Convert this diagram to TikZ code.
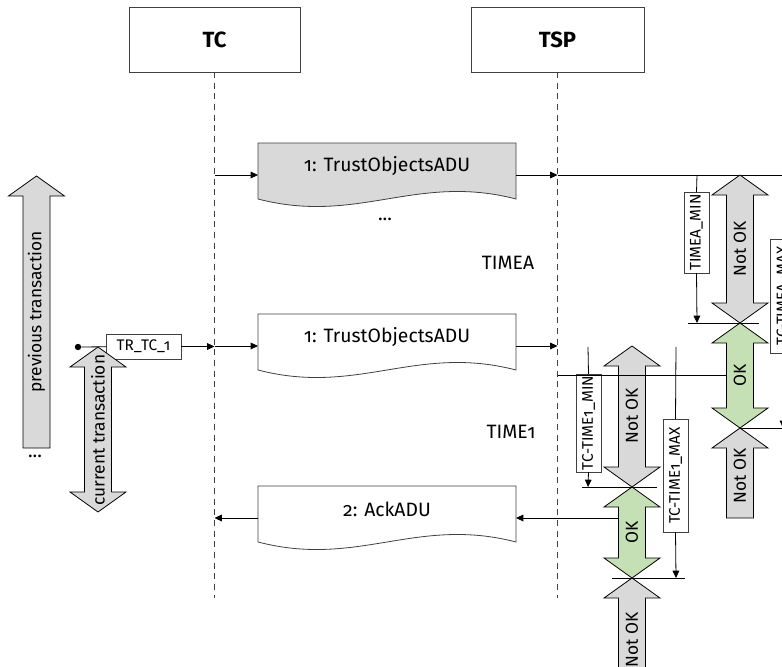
\documentclass[tikz,border=0pt]{standalone}
\usepackage{fontspec}
\setmainfont{Fira Sans}[Numbers=OldStyle]
\usetikzlibrary{arrows.meta,calc}
\definecolor{boxgray}{HTML}{D9D9D9}
\definecolor{okgreen}{HTML}{C5E0B4}
\definecolor{linegray}{HTML}{404040}
\tikzset{
  every picture/.style={line join=miter, >={Triangle[length=5.5pt,width=5pt]}},
  conn/.style={draw=black, line width=0.6pt},
  blockline/.style={draw=black, line width=0.6pt},
  lifeline/.style={draw=linegray, line width=0.6pt, dash pattern=on 4.5pt off 3.5pt},
  actor/.style={draw=linegray, line width=0.6pt, minimum width=128.25pt, minimum height=48.75pt,
    inner sep=0pt, outer sep=0pt, font=\fontsize{16.5}{19}\selectfont\bfseries},
  msg/.style={minimum width=193.5pt, minimum height=42pt, inner sep=0pt, outer sep=0pt},
  msgline/.style={draw=linegray, line width=0.6pt},
  msgtext/.style={inner sep=0pt, font=\fontsize{14.5}{17}\selectfont},
  arrowtext/.style={inner sep=0pt, rotate=90, font=\fontsize{13}{15}\selectfont},
  timebox/.style={draw=linegray, fill=white, line width=0.6pt, rotate=90, minimum height=18.75pt,
    inner sep=0pt, outer sep=0pt, font=\fontsize{11.5}{13}\selectfont},
  trbox/.style={draw=linegray, fill=white, line width=0.6pt, minimum width=56.25pt, minimum height=18.75pt,
    inner sep=0pt, outer sep=0pt, font=\fontsize{11.5}{13}\selectfont},
  dot/.style={circle, fill=black, inner sep=0pt, minimum size=4.8pt},
}
% document shape with a wavy bottom around an empty node
\newcommand\msgshape[2]{%
  \draw[msgline,fill=#2] (#1.north west) -- (#1.north east) -- (#1.south east)
    .. controls ($(#1.south east)+(-100,-26)$) and ($(#1.south west)+(100,26)$) .. (#1.south west) -- cycle;}
% block arrows: x, top, bottom, fill
\newcommand\dblarrow[4]{%
  \draw[blockline,fill=#4] (#1,#2) -- ++(28,20) -- ++(-14.5,0) -- ({#1+13.5},{#3-20}) -- ++(14.5,0)
    -- (#1,#3) -- ++(-28,-20) -- ++(14.5,0) -- ({#1-13.5},{#2+20}) -- ++(-14.5,0) -- cycle;}
\newcommand\uparrowblk[4]{%
  \draw[blockline,fill=#4] (#1,#2) -- ++(28,20) -- ++(-14.5,0) -- ({#1+13.5},#3)
    -- ({#1-13.5},#3) -- ({#1-13.5},{#2+20}) -- ++(-14.5,0) -- cycle;}

\begin{document}
\begin{tikzpicture}[x=0.75pt,y=-0.75pt]
\useasboundingbox (0,0) rectangle (782,667);
\clip (0,0) rectangle (782,667);
% actors
\node[actor] (tc) at (214.5,39.5) {TC};
\node[actor, minimum width=129.75pt] (tsp) at (557.5,39.5) {TSP};
\coordinate (end) at (0,598);
\coordinate (redge) at (800,0);
\draw[lifeline] (tc.south) -- (tc.south |- end);
\draw[lifeline] (tsp.south) -- (tsp.south |- end);

% left side
\uparrowblk{36.5}{176}{448}{boxgray}
\node[arrowtext] (prev) at (36.5,312) {previous transaction};
\node[msgtext] (more) at (35,456) {...};
\node[dot] (start) at (78,347) {};
\node[trbox] (tr) at (143.5,346.5) {TR\_TC\_1};
\draw[conn] (start) -- (tr);
\draw[conn,->] (tr) -- (tc.south |- tr);
\dblarrow{98}{347}{512}{boxgray}
\node[arrowtext] (cur) at (98,430) {current transaction};

% message 1
\coordinate (a1) at (0,175);
\node[msg] (m1) at (387,171) {};
\msgshape{m1}{boxgray}
\node[msgtext] (m1t) at (387,166) {1: TrustObjectsADU};
\draw[conn] (tsp.south |- a1) -- (redge |- a1);
\draw[conn,->] (tc.south |- a1) -- (m1.west |- a1);
\draw[conn,->] (m1.east |- a1) -- (tsp.south |- a1);
\node[msgtext] (skip) at (385,219) {...};
\node[msgtext] (timea) at (508,263) {TIMEA};

% message 2
\coordinate (a2) at (0,346);
\node[msg] (m2) at (387,342) {};
\msgshape{m2}{white}
\node[msgtext] (m2t) at (387,337) {1: TrustObjectsADU};
\draw[conn,->] (tc.south |- a2) -- (m2.west |- a2);
\draw[conn,->] (m2.east |- a2) -- (tsp.south |- a2);
\node[msgtext] (time1) at (511,432) {TIME1};

% message 3
\coordinate (ack) at (632,518);
\node[msg] (m3) at (387,514) {};
\msgshape{m3}{white}
\node[msgtext] (m3t) at (387,509) {2: AckADU};
\draw[conn,->] (ack) -- (m3.east |- ack);
\draw[conn,->] (m3.west |- ack) -- (tc.south |- ack);

% TIME1 window
\coordinate (s1) at (588,347);
\coordinate (s1e) at (588,487);
\node[timebox, minimum width=73.5pt] (t1min) at (588.5,423) {TC-TIME1\_MIN};
\draw[conn] (s1) -- (t1min.east);
\draw[conn,->] (t1min.west) -- (s1e);
\draw[conn] (582,487) -- (657,487);
\coordinate (s2) at (676,347);
\coordinate (s2e) at (676,578);
\node[timebox, minimum width=84.75pt] (t1max) at (675.5,475.5) {TC-TIME1\_MAX};
\draw[conn] (s2) -- (t1max.east);
\draw[conn,->] (t1max.west) -- (s2e);
\draw[conn] (612,578) -- (685,578);
\dblarrow{632}{346}{487}{boxgray}
\dblarrow{632}{487}{578}{okgreen}
\uparrowblk{632}{578}{680}{boxgray}
\node[arrowtext] (n1) at (632,416) {Not OK};
\node[arrowtext] (o1) at (632,532.5) {OK};
\node[arrowtext] (n2) at (632,640) {Not OK};
\coordinate (a4) at (740,375);
\draw[conn] (tsp.south |- a4) -- (a4);

% TIMEA window
\coordinate (u1) at (697,175);
\coordinate (u1e) at (697,323);
\node[timebox, minimum width=60.75pt] (tamin) at (696.5,232.5) {TIMEA\_MIN};
\draw[conn] (u1) -- (tamin.east);
\draw[conn,->] (tamin.west) -- (u1e);
\draw[conn] (688,323) -- (759,323);
\coordinate (u2e) at (783,428);
\node[timebox, minimum width=85.5pt] (tamax) at (783,296) {TC-TIMEA\_MAX};
\draw[conn,->] (tamax.west) -- (u2e);
\draw[conn] (740,428) -- (redge |- u2e);
\dblarrow{740}{175}{323}{boxgray}
\dblarrow{740}{323}{428}{okgreen}
\uparrowblk{740}{428}{518}{boxgray}
\node[arrowtext] (n3) at (740,249) {Not OK};
\node[arrowtext] (o2) at (740,375.5) {OK};
\node[arrowtext] (n4) at (740,476) {Not OK};
\end{tikzpicture}
\end{document}
